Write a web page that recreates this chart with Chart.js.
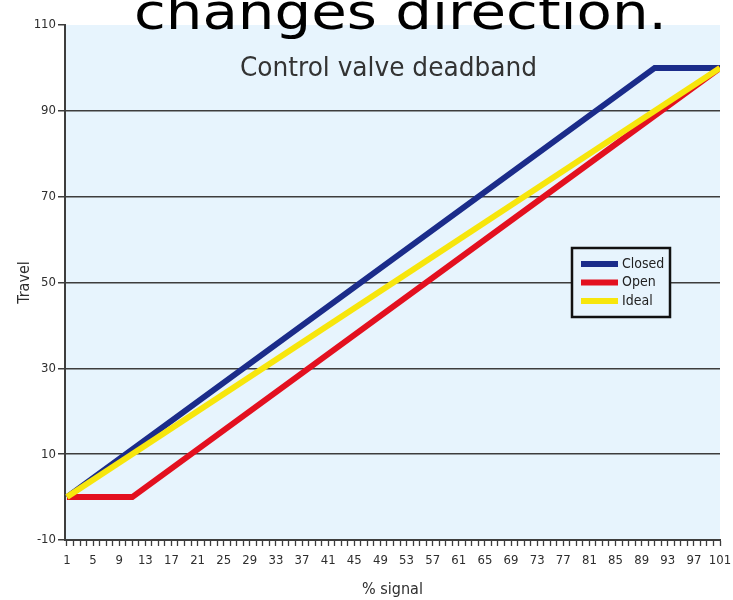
<!DOCTYPE html>
<html>
<head>
<meta charset="utf-8">
<script src="https://cdn.jsdelivr.net/npm/chart.js@4"></script>
<style>
  html, body { margin: 0; padding: 0; background: #ffffff; }
  #wrap { width: 733px; height: 600px; }
</style>
</head>
<body>
<div id="wrap"><canvas id="c" width="733" height="600"></canvas></div>
<script>
// Valve travel vs. control signal: vertices of each piecewise-linear response
const signalClosed = [1, 91, 101];
const travelClosed = [0, 100, 100];
const signalOpen = [1, 11, 101];
const travelOpen = [0, 0, 100];
const signalIdeal = [1, 101];
const travelIdeal = [0, 100];

const seriesNames = ['Closed', 'Open', 'Ideal'];
const seriesColors = ['#1b2c8a', '#e3101f', '#f7e60c'];

// labelled signal ticks (every category 1..101 gets a tick mark)
const xTickLabels = [1, 5, 9, 13, 17, 21, 25, 29, 33, 37, 41, 45, 49, 53, 57, 61, 65, 69, 73, 77, 81, 85, 89, 93, 97, 101];
const yTickValues = [-10, 10, 30, 50, 70, 90, 110];

const chartTitle = 'Control valve deadband';
const headline = 'changes direction.';
const xTitle = '% signal';
const yTitle = 'Travel';

const PLOT_BG = '#e7f4fd';
const INK = '#2e2e2e';
const GRID = '#3d3d3d';
const LABEL_FONT = '"Liberation Sans Narrow", "DejaVu Sans Condensed", "Open Sans", sans-serif';

function pairs(xs, ys) { return xs.map((x, i) => ({ x: x, y: ys[i] })); }

const plotBackground = {
  id: 'plotBackground',
  beforeDraw(chart) {
    const a = chart.chartArea, ctx = chart.ctx;
    ctx.save();
    ctx.fillStyle = PLOT_BG;
    ctx.fillRect(a.left, a.top, a.right - a.left, a.bottom - a.top);
    ctx.restore();
  }
};

function fitText(ctx, text, x, y, targetWidth) {
  const w = ctx.measureText(text).width;
  const s = targetWidth / w;
  ctx.save();
  ctx.translate(x, y);
  ctx.scale(s, 1);
  ctx.fillText(text, 0, 0);
  ctx.restore();
}

const boxLegend = {
  id: 'boxLegend',
  afterDatasetsDraw(chart) {
    const ctx = chart.ctx;
    const x = 572, y = 248, w = 98, h = 69;
    ctx.save();
    ctx.fillStyle = PLOT_BG;
    ctx.fillRect(x, y, w, h);
    ctx.lineWidth = 2.5;
    ctx.strokeStyle = '#111111';
    ctx.strokeRect(x, y, w, h);
    ctx.font = '14px ' + LABEL_FONT;
    ctx.textBaseline = 'middle';
    ctx.textAlign = 'left';
    chart.data.datasets.forEach((ds, i) => {
      const cy = y + 16 + i * 18.5;
      ctx.strokeStyle = ds.borderColor;
      ctx.lineWidth = 6;
      ctx.beginPath();
      ctx.moveTo(x + 9, cy);
      ctx.lineTo(x + 46, cy);
      ctx.stroke();
      ctx.fillStyle = '#222222';
      ctx.fillText(ds.label, x + 50, cy);
    });
    ctx.restore();
  }
};

const captions = {
  id: 'captions',
  afterDraw(chart) {
    const ctx = chart.ctx;
    ctx.save();
    ctx.fillStyle = '#333333';
    ctx.textBaseline = 'alphabetic';
    ctx.textAlign = 'left';
    ctx.font = '27px ' + LABEL_FONT;
    fitText(ctx, chartTitle, 240, 76, 297);
    ctx.fillStyle = '#000000';
    ctx.font = '49px "DejaVu Sans", sans-serif';
    fitText(ctx, headline, 134, 29, 533);
    ctx.restore();
  }
};

new Chart(document.getElementById('c'), {
  type: 'line',
  data: {
    datasets: [
      { label: seriesNames[0], data: pairs(signalClosed, travelClosed), borderColor: seriesColors[0], order: 2 },
      { label: seriesNames[1], data: pairs(signalOpen, travelOpen), borderColor: seriesColors[1], order: 1 },
      { label: seriesNames[2], data: pairs(signalIdeal, travelIdeal), borderColor: seriesColors[2], order: 0 }
    ]
  },
  options: {
    responsive: false,
    animation: false,
    devicePixelRatio: 1,
    layout: { padding: { top: 25, right: 13, left: 0, bottom: 0 } },
    elements: {
      line: { borderWidth: 6, borderJoinStyle: 'miter', borderCapStyle: 'butt', tension: 0, fill: false },
      point: { radius: 0, hoverRadius: 0 }
    },
    plugins: {
      legend: { display: false },
      tooltip: { enabled: false },
      title: { display: false }
    },
    scales: {
      x: {
        type: 'linear',
        min: 0.7,
        max: 101,
        afterFit(scale) {
          scale.height = 60;
          scale.paddingLeft = 0;
          scale.paddingRight = 0;
        },
        afterBuildTicks(scale) {
          const t = [];
          for (let v = 1; v <= 101; v++) t.push({ value: v });
          scale.ticks = t;
        },
        ticks: {
          autoSkip: false,
          minRotation: 0,
          maxRotation: 0,
          padding: 7,
          color: INK,
          font: { size: 13, family: LABEL_FONT },
          callback: (v) => xTickLabels.includes(v) ? String(v) : ''
        },
        grid: { drawOnChartArea: false, drawTicks: true, tickLength: 6, tickColor: GRID, tickWidth: 1.3 },
        border: { display: true, color: GRID, width: 2 },
        title: { display: true, text: xTitle, color: INK, font: { size: 16, family: LABEL_FONT }, padding: { top: 0, bottom: 1 } }
      },
      y: {
        type: 'linear',
        min: -10,
        max: 110,
        afterFit(scale) { scale.width = 65; },
        afterBuildTicks(scale) { scale.ticks = yTickValues.map(v => ({ value: v })); },
        ticks: {
          padding: 2,
          color: INK,
          font: { size: 13, family: LABEL_FONT }
        },
        grid: {
          drawTicks: true,
          tickLength: 7,
          tickColor: GRID,
          tickWidth: 1.5,
          lineWidth: 1.5,
          color: (c) => (c.tick && c.tick.value > -10 && c.tick.value < 110) ? GRID : 'rgba(0,0,0,0)'
        },
        border: { display: true, color: GRID, width: 2 },
        title: { display: true, text: yTitle, color: INK, font: { size: 16, family: LABEL_FONT }, padding: { top: 15, bottom: 0 } }
      }
    }
  },
  plugins: [plotBackground, boxLegend, captions]
});
</script>
</body>
</html>
